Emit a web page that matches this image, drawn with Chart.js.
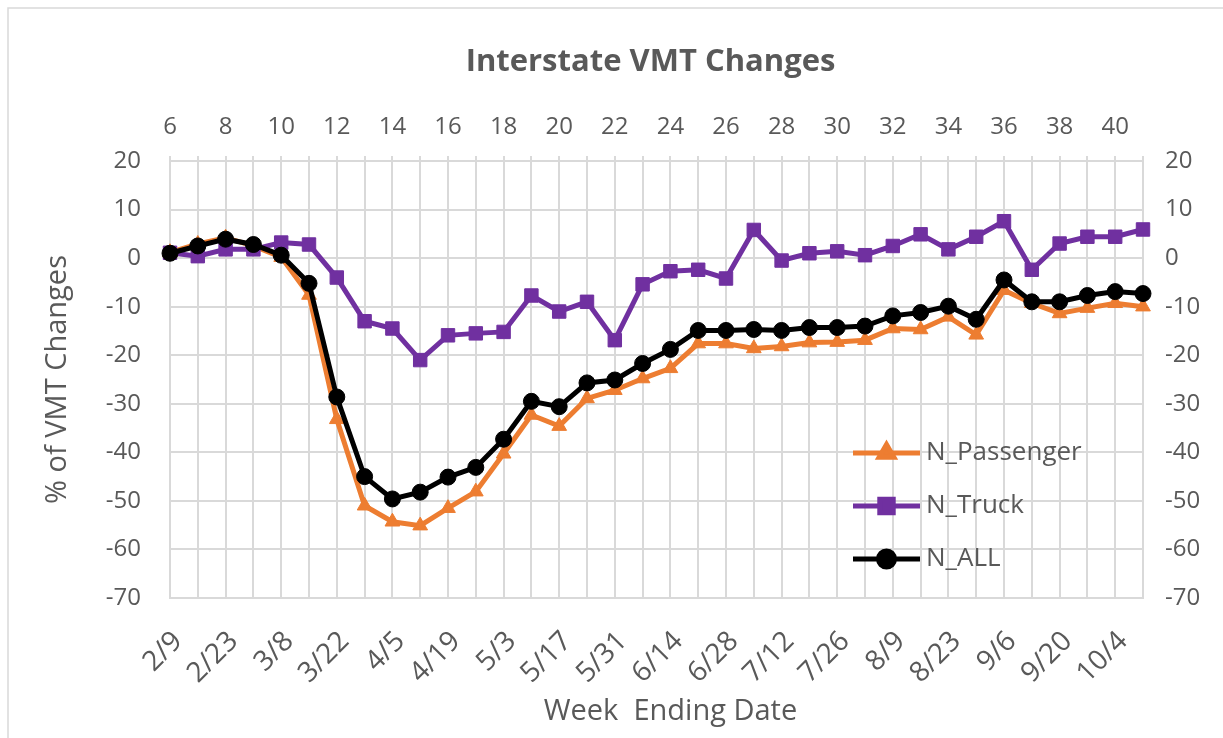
<!DOCTYPE html>
<html>
<head>
<meta charset="utf-8">
<title>Interstate VMT Changes</title>
<script src="https://cdn.jsdelivr.net/npm/chart.js@4.4.1/dist/chart.umd.min.js"></script>
<style>
  body { margin: 0; background: #fff; }
  #wrap { width: 1223px; height: 738px; }
</style>
</head>
<body>
<div id="wrap"><canvas id="chartVmt" width="1223" height="738"></canvas></div>
<script>
// week numbers (top axis) and week ending dates (bottom axis)
const weeks = [6, 7, 8, 9, 10, 11, 12, 13, 14, 15, 16, 17, 18, 19, 20, 21, 22, 23,
  24, 25, 26, 27, 28, 29, 30, 31, 32, 33, 34, 35, 36, 37, 38, 39, 40, 41];
const dates = ["2/9", "2/16", "2/23", "3/1", "3/8", "3/15", "3/22", "3/29", "4/5", "4/12",
  "4/19", "4/26", "5/3", "5/10", "5/17", "5/24", "5/31", "6/7", "6/14", "6/21", "6/28",
  "7/5", "7/12", "7/19", "7/26", "8/2", "8/9", "8/16", "8/23", "8/30", "9/6", "9/13",
  "9/20", "9/27", "10/4", "10/11"];

const nPassenger = [1.2, 2.9, 4.2, 2.5, 0.2, -7.6, -33.2, -51.0, -54.3, -55.1, -51.5, -48.1,
  -40.3, -32.3, -34.6, -28.9, -27.2, -24.8, -22.7, -17.6, -17.6, -18.6, -18.2, -17.4,
  -17.3, -16.9, -14.5, -14.7, -12.1, -15.8, -6.6, -9.3, -11.4, -10.3, -9.3, -10.0];
const nTruck = [1.1, 0.4, 1.8, 1.8, 3.2, 2.8, -4.0, -13.0, -14.5, -21.0, -15.9, -15.5,
  -15.2, -7.7, -11.0, -9.0, -16.9, -5.4, -2.7, -2.4, -4.2, 5.8, -0.5, 1.0,
  1.4, 0.6, 2.5, 4.9, 1.8, 4.4, 7.6, -2.4, 3.0, 4.4, 4.4, 5.9];
const nAll = [1.0, 2.5, 3.9, 2.8, 0.6, -5.2, -28.6, -45.0, -49.6, -48.2, -45.1, -43.1,
  -37.3, -29.5, -30.6, -25.7, -25.1, -21.7, -18.8, -14.9, -14.9, -14.7, -14.9, -14.3,
  -14.3, -14.0, -11.9, -11.2, -9.9, -12.6, -4.5, -9.0, -9.0, -7.7, -6.9, -7.3];

const yMin = -70;
const yMax = 20;
const yStep = 10;

const GRIS_TEXTO = "#595959";
const GRIS_GRID = "#d9d9d9";
const FUENTE = '"Open Sans", "Noto Sans", sans-serif';

Chart.defaults.font.family = FUENTE;
Chart.defaults.color = GRIS_TEXTO;

const series = [
  { label: "N_Passenger", data: nPassenger, color: "#ed7d31", style: "triangle", radius: 8.5, width: 5, order: 3 },
  { label: "N_Truck", data: nTruck, color: "#7030a0", style: "rect", radius: 9.5, width: 5, order: 2 },
  { label: "N_ALL", data: nAll, color: "#000000", style: "circle", radius: 8, width: 5, order: 1 }
];

// title, x axis title, outer frame and the legend inside the plot
const extras = {
  id: "extras",
  beforeDraw(chart) {
    const ctx = chart.ctx;
    ctx.save();
    ctx.strokeStyle = GRIS_GRID;
    ctx.lineWidth = 1.5;
    ctx.strokeRect(8, 8, chart.width, chart.height);
    ctx.restore();
  },
  afterDraw(chart) {
    const ctx = chart.ctx;
    const area = chart.chartArea;
    const centro = (area.left + area.right) / 2;
    ctx.save();
    ctx.fillStyle = GRIS_TEXTO;
    ctx.font = "bold 31px " + FUENTE;
    ctx.textAlign = "center";
    ctx.textBaseline = "middle";
    ctx.fillText("Interstate VMT Changes", centro - 6, 62);

    ctx.font = "29px " + FUENTE;
    ctx.fillText("Week  Ending Date", centro + 14, 712);

    const x0 = area.left + 683;
    const x1 = area.left + 750;
    const rowTop = area.top + 292;
    ctx.font = "26px " + FUENTE;
    ctx.textAlign = "left";
    for (let i = 0; i < series.length; i++) {
      const s = series[i];
      const y = rowTop + i * 53;
      ctx.strokeStyle = s.color;
      ctx.lineWidth = s.width;
      ctx.beginPath();
      ctx.moveTo(x0, y);
      ctx.lineTo(x1, y);
      ctx.stroke();
      ctx.fillStyle = s.color;
      Chart.helpers.drawPoint(ctx, { pointStyle: s.style, radius: s.radius, rotation: 0, borderWidth: 1 }, (x0 + x1) / 2, y);
      ctx.fillStyle = GRIS_TEXTO;
      ctx.fillText(s.label, x1 + 6, y);
    }
    ctx.restore();
  }
};

const datasets = series.map(function (s) {
  return {
    label: s.label,
    data: s.data,
    borderColor: s.color,
    backgroundColor: s.color,
    borderWidth: s.width,
    pointStyle: s.style,
    pointRadius: s.radius,
    pointHoverRadius: s.radius,
    pointBorderWidth: 1,
    tension: 0,
    order: s.order,
    xAxisID: "x",
    yAxisID: "y"
  };
});

new Chart(document.getElementById("chartVmt"), {
  type: "line",
  data: { labels: dates, datasets: datasets },
  options: {
    responsive: false,
    animation: false,
    layout: { padding: { top: 90, left: 0, right: 0, bottom: 0 } },
    plugins: {
      legend: { display: false },
      title: { display: false },
      tooltip: { enabled: false }
    },
    scales: {
      x: {
        type: "category",
        position: "bottom",
        offset: false,
        grid: { color: GRIS_GRID, lineWidth: 2, drawTicks: false },
        border: { color: GRIS_GRID, width: 2 },
        ticks: {
          autoSkip: false,
          minRotation: 45,
          maxRotation: 45,
          padding: 27,
          labelOffset: 8,
          font: { size: 28 },
          callback: function (v, i) { return i % 2 === 0 ? dates[i] : ""; }
        },
        afterFit: function (scale) { scale.height = 140; }
      },
      x2: {
        type: "category",
        position: "top",
        labels: weeks.map(String),
        offset: false,
        grid: { color: GRIS_GRID, lineWidth: 2, drawOnChartArea: false, tickLength: 5 },
        border: { display: false },
        ticks: {
          autoSkip: false,
          maxRotation: 0,
          padding: 14,
          font: { size: 24 },
          callback: function (v, i) { return i % 2 === 0 ? String(weeks[i]) : ""; }
        },
        afterFit: function (scale) { scale.height = 71; }
      },
      y: {
        position: "left",
        min: yMin,
        max: yMax,
        grid: { color: GRIS_GRID, lineWidth: 2, drawTicks: false },
        border: { color: GRIS_GRID, width: 2 },
        ticks: { stepSize: yStep, padding: 29, font: { size: 24 } },
        title: { display: true, text: "% of VMT Changes", font: { size: 29 }, padding: { top: 40, bottom: 0 } },
        afterFit: function (scale) { scale.width = 170; }
      },
      y2: {
        position: "right",
        min: yMin,
        max: yMax,
        grid: { display: false, drawTicks: false },
        border: { display: false },
        ticks: { stepSize: yStep, padding: 22, font: { size: 24 } },
        afterFit: function (scale) { scale.width = 80; }
      }
    }
  },
  plugins: [extras]
});
</script>
</body>
</html>
